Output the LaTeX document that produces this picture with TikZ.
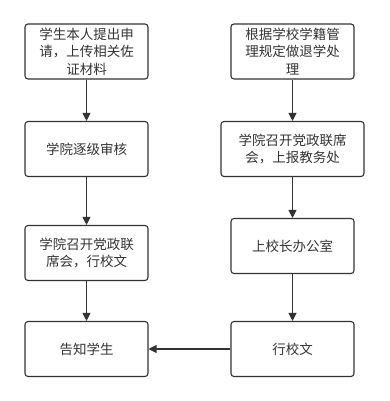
\documentclass[tikz,border=0pt]{standalone}
\usepackage{fontspec}
\setmainfont{Noto Sans CJK SC}
\usetikzlibrary{arrows.meta}
\begin{document}
\begin{tikzpicture}[x=1pt,y=-1pt,line width=1.1pt,>={Triangle[length=8pt,width=8pt]},
  caja/.style={draw=black!80,rounded corners=3pt,minimum width=123pt,minimum height=55pt,
    align=center,inner sep=2pt,text=black!80,font=\fontsize{13.5}{17.5}\selectfont}]
  \useasboundingbox (0,0) rectangle (389,401);
  % columna izquierda
  \node[caja] (l1) at (86.5,51.5) {学生本人提出申\\请，上传相关佐\\证材料};
  \node[caja] (l2) at (86.5,149) {学院逐级审核};
  \node[caja] (l3) at (86.5,253) {学院召开党政联\\席会，行校文};
  \node[caja] (l4) at (86.5,349) {告知学生};
  % columna derecha
  \node[caja] (r1) at (292.5,51.5) {根据学校学籍管\\理规定做退学处\\理};
  \node[caja,minimum width=143pt] (r2) at (292.5,149) {学院召开党政联席\\会，上报教务处};
  \node[caja] (r3) at (292.5,246) {上校长办公室};
  \node[caja] (r4) at (292.5,349) {行校文};
  % flechas
  \foreach \a/\b in {l1/l2,l2/l3,l3/l4,r1/r2,r2/r3,r3/r4,r4/l4}
    \draw[->,black!80] (\a) -- (\b);
\end{tikzpicture}
\end{document}
